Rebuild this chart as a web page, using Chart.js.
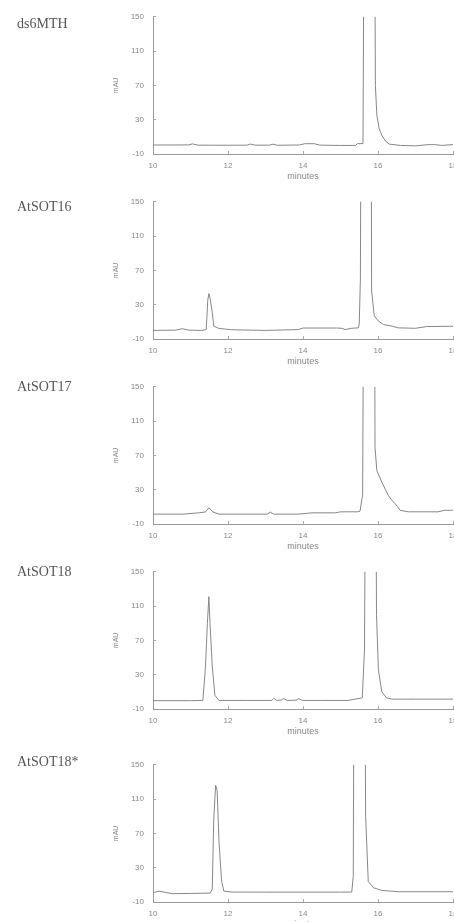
<!DOCTYPE html>
<html>
<head>
<meta charset="utf-8">
<script src="https://cdn.jsdelivr.net/npm/chart.js@4/dist/chart.umd.min.js"></script>
<style>
  body { margin: 0; background: #fff; overflow: hidden; }
  #wrap { position: relative; width: 454px; height: 922px; overflow: hidden; }
  canvas { position: absolute; left: 0; }
  .name { position: absolute; left: 17px; font: 14px "Liberation Serif", serif; line-height: 16px; color: #555; }
</style>
</head>
<body>
<div id="wrap"></div>
<script>
// sample names
const names = ['ds6MTH', 'AtSOT16', 'AtSOT17', 'AtSOT18', 'AtSOT18*'];

// retention time (minutes) and absorbance (mAU)
const t1 = [10.0, 10.5, 10.95, 11.05, 11.2, 12.0, 12.5, 12.6, 12.72, 13.1, 13.2, 13.3, 13.9, 14.05, 14.3, 14.45, 15.0, 15.4, 15.45, 15.6, 15.64, 15.78, 15.9, 15.93, 15.97, 16.03, 16.1, 16.2, 16.3, 16.6, 17.0, 17.3, 17.5, 17.7, 18.0];
const v1 = [0.5, 0.5, 0.6, 1.8, 0.3, 0.2, 0.3, 1.6, 0.3, 0.3, 1.5, 0.2, 0.5, 2, 2, 0.3, 0, 0, 2, 2.2, 400, 950, 400, 70, 35, 20, 12, 5, 1.5, 0, -0.5, 0.8, 1, 0, 1];

const t2 = [10.0, 10.6, 10.78, 10.95, 11.3, 11.42, 11.46, 11.49, 11.52, 11.58, 11.62, 11.76, 12.1, 13.0, 13.88, 14.0, 14.9, 15.04, 15.12, 15.3, 15.48, 15.5, 15.53, 15.56, 15.7, 15.81, 15.83, 15.9, 16.01, 16.14, 16.37, 16.54, 17.0, 17.3, 17.9, 18.0];
const v2 = [0, 0.3, 2, 0.3, 0, 1, 35, 43, 38, 21, 5, 2.3, 0.8, 0, 1, 2.8, 2.8, 2.5, 1, 2.5, 3, 8, 60, 400, 1000, 400, 46, 17, 11, 7, 5, 3, 2.5, 4.5, 4.8, 4.8];

const t3 = [10.0, 10.8, 11.22, 11.4, 11.49, 11.6, 11.76, 12.5, 13.05, 13.13, 13.22, 13.88, 14.24, 14.86, 15.0, 15.45, 15.52, 15.59, 15.63, 15.77, 15.9, 15.92, 15.97, 16.1, 16.2, 16.28, 16.38, 16.45, 16.59, 16.81, 17.6, 17.78, 18.0];
const v3 = [1.5, 1.5, 3, 4, 9, 4, 1.5, 1.5, 1.5, 3.8, 1.5, 1.5, 3, 3, 4.2, 4.2, 5, 24, 400, 1100, 400, 79, 52, 39, 30, 23, 17, 14, 6, 4.2, 4.2, 6, 6];

const t4 = [10.0, 11.0, 11.33, 11.4, 11.45, 11.49, 11.52, 11.58, 11.65, 11.76, 12.5, 13.17, 13.22, 13.3, 13.42, 13.48, 13.58, 13.82, 13.88, 13.98, 14.5, 15.2, 15.39, 15.58, 15.64, 15.68, 15.82, 15.93, 15.96, 16.01, 16.1, 16.23, 16.37, 17.0, 18.0];
const v4 = [-0.3, -0.3, 0, 40, 90, 121, 90, 40, 6, 0, 0, 0, 2.3, 0, 0.5, 2, 0, 0.3, 2, 0, 0, 0, 1.5, 3, 60, 400, 1000, 400, 100, 36, 10, 3, 1.5, 1.5, 1.5];

const t5 = [10.0, 10.16, 10.51, 11.0, 11.53, 11.58, 11.62, 11.67, 11.71, 11.76, 11.83, 11.89, 12.11, 13.0, 14.0, 15.0, 15.3, 15.34, 15.37, 15.5, 15.64, 15.67, 15.74, 15.88, 16.1, 16.54, 17.5, 18.0];
const v5 = [0.8, 2.7, -0.3, 0, 0.4, 5, 87, 126, 120, 60, 14, 2.7, 1.6, 1.5, 1.5, 1.5, 1.6, 20, 400, 1000, 400, 90, 14, 6.6, 3.5, 2, 2, 2];

// axis ticks
const xTicks = [10, 12, 14, 16, 18];
const yTicks = [-10, 30, 70, 110, 150];

const traces = [[t1, v1], [t2, v2], [t3, v3], [t4, v4], [t5, v5]];
const panelTop = [0, 185, 370, 555, 748];
const nameTop = [16, 199, 379, 564, 754];

const wrap = document.getElementById('wrap');

function makeChart(i) {
  const cv = document.createElement('canvas');
  cv.width = 480;
  cv.height = 185;
  cv.style.top = panelTop[i] + 'px';
  wrap.appendChild(cv);

  const lbl = document.createElement('div');
  lbl.className = 'name';
  lbl.style.top = nameTop[i] + 'px';
  lbl.textContent = names[i];
  wrap.appendChild(lbl);

  const [ts, vs] = traces[i];
  new Chart(cv, {
    type: 'line',
    data: {
      datasets: [{
        data: ts.map((t, k) => ({x: t, y: vs[k]})),
        borderColor: '#878787',
        borderWidth: 1,
        pointRadius: 0,
        tension: 0,
        fill: false
      }]
    },
    options: {
      responsive: false,
      animation: false,
      layout: {padding: {left: 107, right: 27, top: 15, bottom: 0}},
      plugins: {legend: {display: false}, tooltip: {enabled: false}},
      scales: {
        x: {
          type: 'linear',
          min: xTicks[0],
          max: xTicks[xTicks.length - 1],
          afterBuildTicks: s => { s.ticks = xTicks.map(v => ({value: v})); },
          afterFit: s => { s.height = 31; },
          ticks: {font: {family: 'Liberation Sans', size: 8}, color: '#888', padding: 10, maxRotation: 0},
          grid: {drawOnChartArea: false, tickLength: -3, color: '#aaa'},
          border: {color: '#999'},
          title: {display: true, text: 'minutes', font: {family: 'Liberation Sans', size: 9}, color: '#888', padding: {top: 0, bottom: 3}}
        },
        y: {
          min: yTicks[0],
          max: yTicks[yTicks.length - 1],
          afterBuildTicks: s => { s.ticks = yTicks.map(v => ({value: v})); },
          afterFit: s => { s.width = 46; },
          ticks: {font: {family: 'Liberation Sans', size: 8}, color: '#888', padding: 12},
          grid: {drawOnChartArea: false, tickLength: -3, color: '#aaa'},
          border: {color: '#999'},
          title: {display: true, text: 'mAU', font: {family: 'Liberation Sans', size: 7}, color: '#888', padding: {top: 5, bottom: 0}}
        }
      }
    }
  });
}

for (let i = 0; i < 5; i++) makeChart(i);
</script>
</body>
</html>
